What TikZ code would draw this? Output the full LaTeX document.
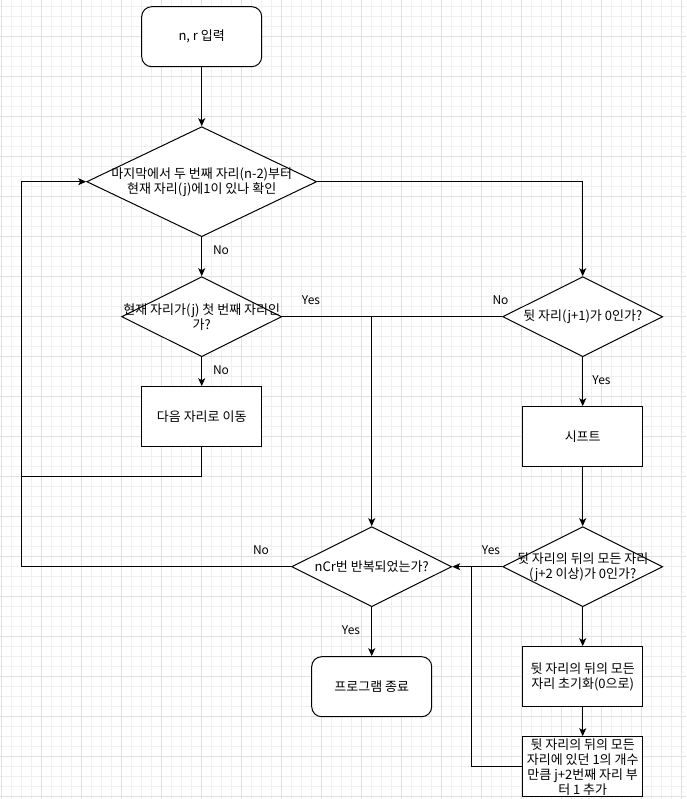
\documentclass[tikz,border=0pt]{standalone}
\usepackage{fontspec}
\setmainfont{Noto Sans CJK KR}
\usetikzlibrary{shapes.geometric,arrows.meta}

\tikzset{
  box/.style={draw, line width=1pt, fill=white, minimum width=120pt, minimum height=60pt, inner sep=0pt},
  term/.style={box, rounded corners=10pt},
  cond/.style={draw, diamond, line width=1pt, fill=white, inner sep=0pt},
  txt/.style={align=center, inner sep=0.75pt, font=\fontsize{13pt}{15pt}\selectfont},
  lbl/.style={inner sep=0.75pt, font=\fontsize{12pt}{14.4pt}\selectfont},
  flow/.style={line width=1pt, -{Stealth[length=8pt,width=7pt,inset=2pt]}},
  wire/.style={line width=1pt},
  minorgrid/.style={draw=black!6, line width=0.8pt},
  majorgrid/.style={draw=black!12, line width=0.8pt},
}

\begin{document}
\begin{tikzpicture}[x=1pt,y=1pt,yscale=-1,xscale=1]
\useasboundingbox (0,0) rectangle (686,799);
\fill[white] (0,0) rectangle (686,799);

%Grid
\foreach \gx in {1.7,11.7,...,685} \draw[minorgrid] (\gx,0) -- (\gx,799);
\foreach \gy in {6.7,16.7,...,799} \draw[minorgrid] (0,\gy) -- (686,\gy);
\foreach \gx in {1.7,41.7,...,685} \draw[majorgrid] (\gx,0) -- (\gx,799);
\foreach \gy in {36.7,76.7,...,799} \draw[majorgrid] (0,\gy) -- (686,\gy);

%Shape: Rounded Rect [start]
\node [term] (start) at (201.7,36.7) {};
%Shape: Diamond [check]
\node [cond, minimum width=230pt, minimum height=110pt] (chk) at (201.7,181.7) {};
%Shape: Diamond [first]
\node [cond, minimum width=160pt, minimum height=80pt] (first) at (201.7,316.7) {};
%Shape: Rectangle [move]
\node [box] (mv) at (201.7,416.7) {};
%Shape: Diamond [next]
\node [cond, minimum width=160pt, minimum height=80pt] (nxt) at (582.7,316.7) {};
%Shape: Rectangle [shift]
\node [box] (shift) at (582.7,436.7) {};
%Shape: Diamond [all zero]
\node [cond, minimum width=160pt, minimum height=80pt] (allz) at (582.7,566.7) {};
%Shape: Rectangle [reset]
\node [box] (reset) at (582.7,676.7) {};
%Shape: Rectangle [add one]
\node [box] (addone) at (582.7,766.7) {};
%Shape: Diamond [repeat]
\node [cond, minimum width=160pt, minimum height=80pt] (rep) at (371.7,566.7) {};
%Shape: Rounded Rect [end]
\node [term] (fin) at (371.7,686.7) {};

\coordinate (lpA) at (21.7,476.7);
\coordinate (back) at (21.7,566.7);
\coordinate (mrg) at (471.7,566.7);

%Straight Lines
\draw [flow] (start) -- (chk.north);
\draw [flow] (chk.south) -- (first.north);
\draw [flow] (first.south) -- (mv.north);
\draw [wire] (mv.south) |- (lpA);
\draw [flow] (rep.west) -- (back) |- (chk.west);
\draw [flow] (chk.east) -| (nxt.north);
\draw [flow] (first.east) -| (rep.north);
\draw [wire] (nxt.west) -- (rep.north |- nxt.west);
\draw [flow] (nxt.south) -- (shift.north);
\draw [flow] (shift.south) -- (allz.north);
\draw [flow] (allz.west) -- (rep.east);
\draw [flow] (allz.south) -- (reset.north);
\draw [flow] (reset.south) -- (addone.north);
\draw [wire] (addone.west) -| (mrg);
\draw [flow] (rep.south) -- (fin.north);

% Text Node
\node [txt] (starttxt) at (start) {n, r 입력};
% Text Node
\node [txt] (chktxt) at (chk) {마지막에서 두 번째 자리(n-2)부터\\현재 자리(j)에1이 있나 확인};
% Text Node
\node [txt] (firsttxt) at (first) {현재 자리가(j) 첫 번째 자리인\\가?};
% Text Node
\node [txt] (mvtxt) at (mv) {다음 자리로 이동};
% Text Node
\node [txt] (nxttxt) at (nxt) {뒷 자리(j+1)가 0인가?};
% Text Node
\node [txt] (shifttxt) at (shift) {시프트};
% Text Node
\node [txt] (allztxt) at (allz) {뒷 자리의 뒤의 모든 자리\\(j+2 이상)가 0인가?};
% Text Node
\node [txt] (resettxt) at (reset) {뒷 자리의 뒤의 모든\\자리 초기화(0으로)};
% Text Node
\node [txt] (addonetxt) at (addone) {뒷 자리의 뒤의 모든\\자리에 있던 1의 개수\\만큼 j+2번째 자리 부\\터 1 추가};
% Text Node
\node [txt] (reptxt) at (rep) {nCr번 반복되었는가?};
% Text Node
\node [txt] (fintxt) at (fin) {프로그램 종료};

% Text Node
\node [lbl] (no1) at (221,250) {No};
% Text Node
\node [lbl] (no2) at (221,370) {No};
% Text Node
\node [lbl] (yes1) at (311,300.5) {Yes};
% Text Node
\node [lbl] (no3) at (500.5,300.5) {No};
% Text Node
\node [lbl] (yes2) at (601.5,380.5) {Yes};
% Text Node
\node [lbl] (yes3) at (491,550.5) {Yes};
% Text Node
\node [lbl] (no4) at (261,550.5) {No};
% Text Node
\node [lbl] (yes4) at (351,630.5) {Yes};

\end{tikzpicture}
\end{document}
